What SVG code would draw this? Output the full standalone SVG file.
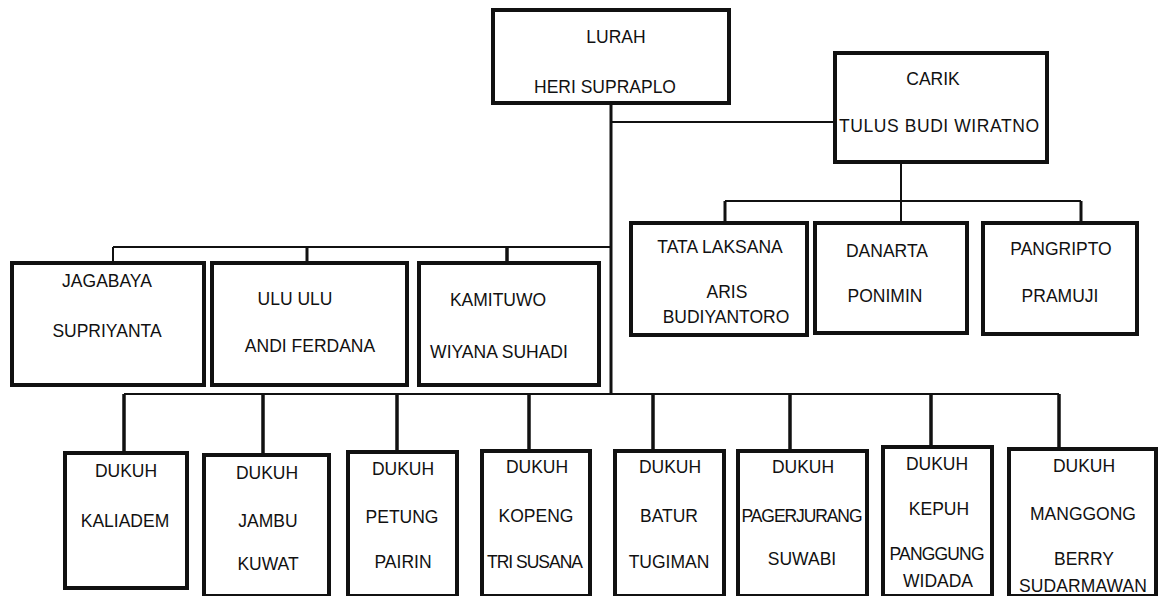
<svg xmlns="http://www.w3.org/2000/svg" width="1163" height="596" viewBox="0 0 1163 596">
<style>
.box{fill:#fff;stroke:#111;stroke-width:4}
.t{font-family:"Liberation Sans",Arial,sans-serif;font-size:17.5px;fill:#111;text-anchor:middle}
.thin{stroke:#111;stroke-width:2;fill:none}
.mid{stroke:#111;stroke-width:3;fill:none}
.thick{stroke:#111;stroke-width:3.5;fill:none}
</style>
<rect width="1163" height="596" fill="#fff"/>
<g id="connectors">
<line class="mid" x1="611" y1="103" x2="611" y2="395"/>
<line class="thin" x1="611" y1="122" x2="835" y2="122"/>
<line class="thin" x1="901" y1="162" x2="901" y2="223"/>
<line class="thin" x1="725" y1="201" x2="1081" y2="201"/>
<line class="mid" x1="725" y1="201" x2="725" y2="223"/>
<line class="mid" x1="1081" y1="201" x2="1081" y2="223"/>
<line class="thin" x1="113" y1="247" x2="611" y2="247"/>
<line class="thin" x1="113" y1="247" x2="113" y2="263"/>
<line class="mid" x1="307" y1="247" x2="307" y2="263"/>
<line class="thick" x1="507" y1="247" x2="507" y2="263"/>
<line class="thin" x1="124" y1="394" x2="1059" y2="394"/>
<line class="thick" x1="124" y1="394" x2="124" y2="453"/>
<line class="thick" x1="263" y1="394" x2="263" y2="455"/>
<line class="thick" x1="397" y1="394" x2="397" y2="452"/>
<line class="thick" x1="529" y1="394" x2="529" y2="451"/>
<line class="thick" x1="653" y1="394" x2="653" y2="451"/>
<line class="thick" x1="790" y1="394" x2="790" y2="451"/>
<line class="thick" x1="931" y1="394" x2="931" y2="447"/>
<line class="thick" x1="1059" y1="394" x2="1059" y2="449"/>
</g>
<g id="lurah">
<rect class="box" x="493" y="10" width="236" height="93"/>
<text class="t" x="616" y="43">LURAH</text>
<text class="t" x="605" y="93">HERI SUPRAPLO</text>
</g>
<g id="carik">
<rect class="box" x="835" y="53" width="212" height="109"/>
<text class="t" x="933" y="85">CARIK</text>
<text class="t" x="939" y="132" textLength="200">TULUS BUDI WIRATNO</text>
</g>
<g id="tatalaksana">
<rect class="box" x="631" y="223" width="176" height="112"/>
<text class="t" x="720" y="253">TATA LAKSANA</text>
<text class="t" x="727" y="298">ARIS</text>
<text class="t" x="726" y="323">BUDIYANTORO</text>
</g>
<g id="danarta">
<rect class="box" x="815" y="223" width="152" height="110"/>
<text class="t" x="887" y="257">DANARTA</text>
<text class="t" x="885" y="302">PONIMIN</text>
</g>
<g id="pangripto">
<rect class="box" x="983" y="223" width="154" height="111"/>
<text class="t" x="1061" y="255">PANGRIPTO</text>
<text class="t" x="1060" y="302">PRAMUJI</text>
</g>
<g id="jagabaya">
<rect class="box" x="12" y="263" width="192" height="122"/>
<text class="t" x="107" y="287">JAGABAYA</text>
<text class="t" x="107" y="337">SUPRIYANTA</text>
</g>
<g id="ulu">
<rect class="box" x="212" y="263" width="195" height="122"/>
<text class="t" x="295" y="305">ULU ULU</text>
<text class="t" x="310" y="352">ANDI FERDANA</text>
</g>
<g id="kamituwo">
<rect class="box" x="419" y="263" width="180" height="122"/>
<text class="t" x="498" y="306">KAMITUWO</text>
<text class="t" x="499" y="358">WIYANA SUHADI</text>
</g>
<g id="kaliadem">
<rect class="box" x="65" y="453" width="122" height="135"/>
<text class="t" x="126" y="477">DUKUH</text>
<text class="t" x="125" y="527">KALIADEM</text>
</g>
<g id="jambu">
<rect class="box" x="204" y="455" width="125" height="141"/>
<text class="t" x="267" y="479">DUKUH</text>
<text class="t" x="268" y="527">JAMBU</text>
<text class="t" x="268" y="570">KUWAT</text>
</g>
<g id="petung">
<rect class="box" x="348" y="452" width="109" height="144"/>
<text class="t" x="403" y="475">DUKUH</text>
<text class="t" x="402" y="523">PETUNG</text>
<text class="t" x="403" y="568">PAIRIN</text>
</g>
<g id="kopeng">
<rect class="box" x="482" y="451" width="108" height="145"/>
<text class="t" x="537" y="473">DUKUH</text>
<text class="t" x="536" y="522">KOPENG</text>
<text class="t" x="535" y="568" textLength="96">TRI SUSANA</text>
</g>
<g id="batur">
<rect class="box" x="615" y="451" width="109" height="145"/>
<text class="t" x="670" y="473">DUKUH</text>
<text class="t" x="669" y="522">BATUR</text>
<text class="t" x="669" y="568">TUGIMAN</text>
</g>
<g id="pagerjurang">
<rect class="box" x="738" y="451" width="129" height="145"/>
<text class="t" x="803" y="473">DUKUH</text>
<text class="t" x="802" y="522" textLength="121">PAGERJURANG</text>
<text class="t" x="802" y="565">SUWABI</text>
</g>
<g id="kepuh">
<rect class="box" x="883" y="447" width="109" height="149"/>
<text class="t" x="937" y="470">DUKUH</text>
<text class="t" x="939" y="515">KEPUH</text>
<text class="t" x="937" y="560" textLength="95">PANGGUNG</text>
<text class="t" x="938" y="587">WIDADA</text>
</g>
<g id="manggong">
<rect class="box" x="1009" y="449" width="147" height="147"/>
<text class="t" x="1084" y="472">DUKUH</text>
<text class="t" x="1083" y="520">MANGGONG</text>
<text class="t" x="1084" y="565">BERRY</text>
<text class="t" x="1083" y="592" textLength="128">SUDARMAWAN</text>
</g>
</svg>
